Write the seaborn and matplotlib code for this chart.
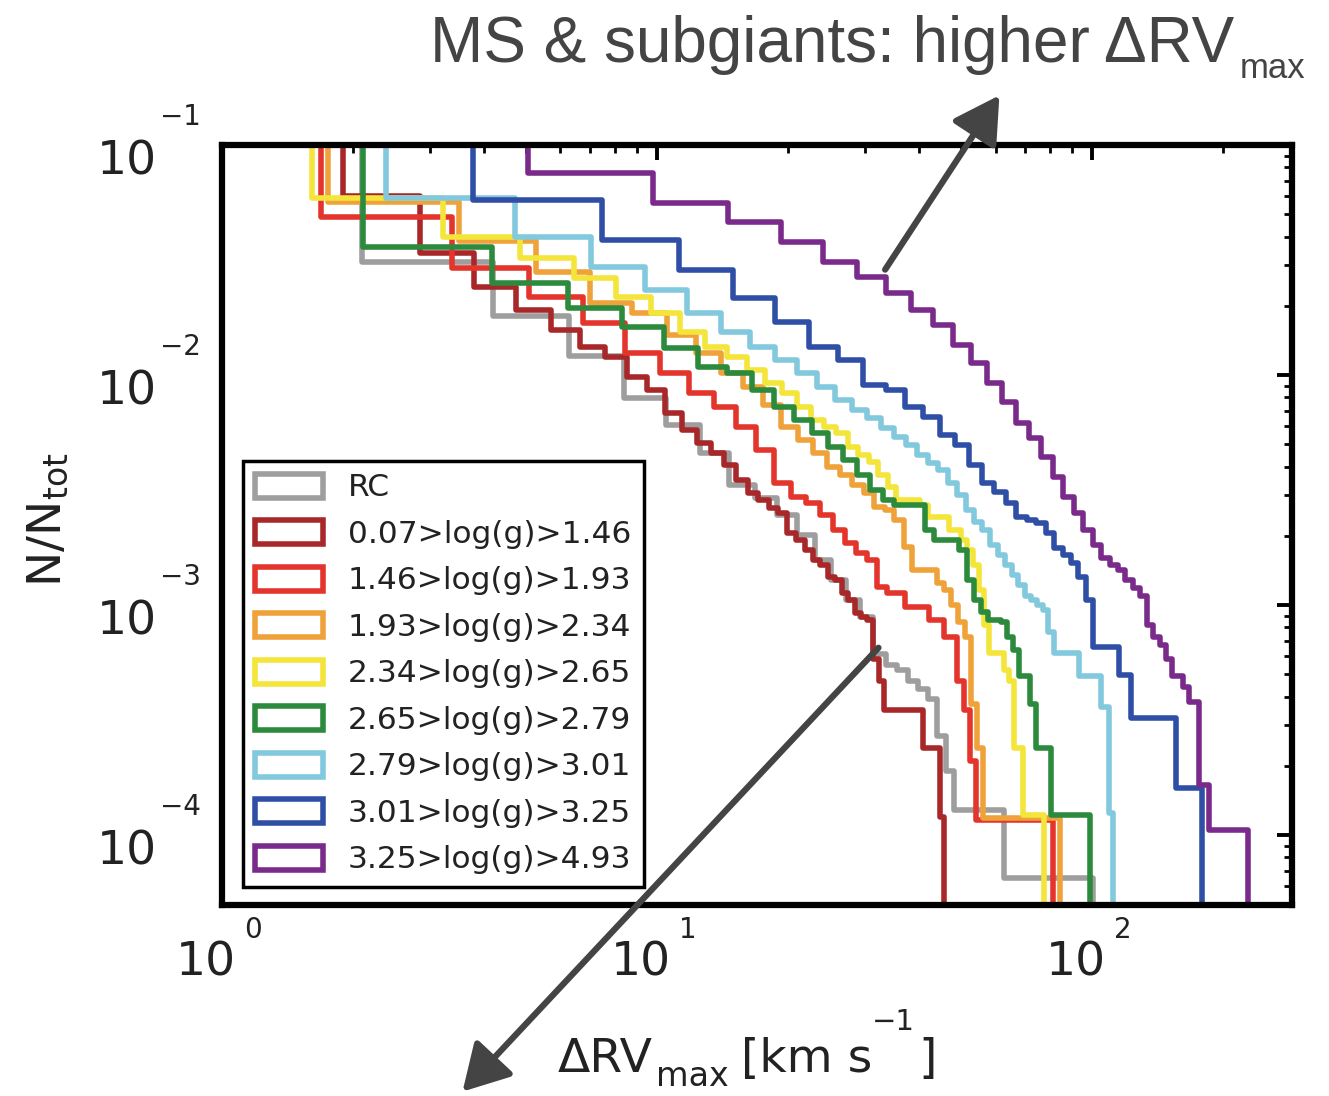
import numpy as np
import pandas as pd
import matplotlib
matplotlib.use("Agg")
import matplotlib.pyplot as plt
import seaborn as sns
from matplotlib.patches import Patch
from matplotlib.ticker import LogLocator, NullFormatter
from matplotlib.transforms import IdentityTransform

# groups, colours and histogram binning of each sample (50 linear bins per group)
labels = ["RC", "0.07>log(g)>1.46", "1.46>log(g)>1.93", "1.93>log(g)>2.34",
          "2.34>log(g)>2.65", "2.65>log(g)>2.79", "2.79>log(g)>3.01",
          "3.01>log(g)>3.25", "3.25>log(g)>4.93"]
colors = ["#9e9e9e", "#a8282a", "#e3352b", "#f0a23a", "#f4e53a",
          "#2c8a3c", "#82c9de", "#2f4ea6", "#7a2a8a"]
bin_start = [0.0, 0.0, 0.0, 0.0, 0.0, 0.05, 0.05, 0.05, 0.28]
bin_width = [2.096, 0.95, 1.69, 1.756, 1.613, 2.06, 2.33, 3.72, 4.76]

# N(>dRV)/N_tot per bin
frac_rc = [1.0, .0310, .0181, .0121, .00794, .00607, .00458, .00333, .00292, .00246,
           .00201, .00157, .00128, .00105, .00089, .00061, .00055, .00052, .00047,
           .00043, .00039, .00027, .00019] + [.000129] * 7 + [.000065] * 18
frac_g1 = [1.0, 1.0, .060, .0339, .0241, .0192, .0157, .0132, .0120, .00980, .00861,
           .00684, .00577, .00506, .00458, .00406, .00349, .00307, .00286, .00264,
           .00251, .00206, .00192, .00173, .00157, .00149, .00132, .00128, .00113,
           .00105, .00092, .00089, .00086, .00058, .00047] + [.00035] * 8 + [.00024] * 4 + [.000120]
frac_g2 = [1.0, .0486, .0292, .0218, .0168, .0125, .0102, .00836, .00726, .00594,
           .00472, .00339, .00295, .00277, .00246, .00212, .00186, .00168, .00157,
           .00120, .00113, .00113, .00098, .00098, .00098, .00086, .00086, .00073,
           .00073, .00047, .00035, .00021] + [.000116] * 16
frac_g3 = [1.0, .0565, .0383, .0281, .0206, .0186, .0149, .0125, .0102, .00887,
           .00741, .00594, .00521, .00458, .00398, .00367, .00333, .00307, .00267,
           .00259, .00234, .00179, .00142, .00142, .00142, .00125, .00116, .00100,
           .00084, .00073, .00037, .00024] + [.000119] * 16
frac_g4 = [1.0, .0589, .0398, .0323, .0264, .0218, .0186, .0154, .0132, .0120, .0105,
           .00923, .00836, .00726, .00637, .00594, .00560, .00486, .00449, .00419,
           .00367, .00326, .00286, .00286, .00286, .00272, .00241, .00241, .00241,
           .00212, .00212, .00192, .00173, .00149, .00116, .00082, .00062, .00062,
           .00062, .00052, .00047, .00024, .00024] + [.000122] * 5
frac_g5 = [1.0, .0360, .0251, .0196, .0162, .0131, .0108, .0102, .00861, .00726,
           .00637, .00560, .00486, .00427, .00367, .00316, .00286, .00272, .00272,
           .00272, .00212, .00192, .00192, .00192, .00173, .00128, .00105, .00093,
           .00086, .00086, .00084, .00073, .00064, .00049, .00049, .00037] + [.00024] * 3 + [.000122] * 9
frac_g6 = [1.0, .0589, .0398, .0295, .0234, .0186, .0154, .0132, .0116, .0102, .00887,
           .00778, .00705, .00650, .00588, .00537, .00496, .00449, .00414, .00386,
           .00339, .00301, .00259, .00230, .00212, .00182, .00165, .00149, .00135,
           .00122, .00110, .00105, .00100, .00095, .00076] + [.00062] * 5 + [.00049] * 5 + [.00036] * 2 + [.000125]
frac_g7 = [1.0, .0577, .0386, .0286, .0216, .0170, .0132, .0116, .00905, .00861,
           .00726, .00656, .00548, .00496, .00406, .00339, .00310, .00277, .00241,
           .00234, .00227, .00206, .00177, .00165, .00152, .00132, .00105] + [.000656] * 4 + [.000497] * 2 + [.000323] * 9 + [.00016] * 6
frac_g8 = [1.0, .0755, .0560, .0462, .0379, .0310, .0267, .0227, .0192, .0165, .0135,
           .0113, .00923, .00764, .00618, .00532, .00440, .00360, .00295, .00251,
           .00212, .00182, .00160, .00149, .00142, .00128, .00119, .00110, .00082,
           .00073, .00067, .00058, .00049, .00049, .00044, .00038, .00038,
           .000165, .000165] + [.000105] * 9

fracs = [frac_rc, frac_g1, frac_g2, frac_g3, frac_g4, frac_g5, frac_g6, frac_g7, frac_g8]

# tick labels drawn as "10" plus a detached exponent, like the original figure
xtick_vals = [1, 10, 100]
xtick_exp = ["0", "1", "2"]
ytick_vals = [1e-1, 1e-2, 1e-3, 1e-4]
ytick_exp = ["\u22121", "\u22122", "\u22123", "\u22124"]

TXT = "#222222"


def place_pieces(fig, x_left, y_base, pieces, color, family):
    """Write text pieces one after another, in display pixels."""
    r = fig.canvas.get_renderer()
    x = x_left
    for s, size, dy, gap in pieces:
        t = fig.text(x, y_base + dy, s, fontsize=size, color=color, family=family,
                     ha="left", va="baseline", transform=IdentityTransform())
        x += t.get_window_extent(renderer=r).width + gap
    return x


def main():
    sns.set_theme(style="white")
    plt.rcParams["font.family"] = ["DejaVu Sans"]
    plt.rcParams["mathtext.fontset"] = "dejavusans"

    # build long table of step curves
    rows = []
    for lab, lo, w, fr in zip(labels, bin_start, bin_width, fracs):
        edges = lo + w * np.arange(len(fr) + 1)
        edges = np.maximum(edges, 0.5)  # first bin starts off the axis
        yvals = list(fr) + [1e-7]       # drop to zero after the last bin
        for e, v in zip(edges, yvals):
            rows.append((lab, e, v))
    df = pd.DataFrame(rows, columns=["group", "drv", "frac"])

    W, H = 1329, 1096
    fig = plt.figure(figsize=(W / 100, H / 100), dpi=100)
    ax = fig.add_axes([0.1670, 0.1743, 0.8051, 0.6934])
    ax.set_xscale("log")
    ax.set_yscale("log")

    sns.lineplot(data=df, x="drv", y="frac", hue="group", hue_order=labels,
                 palette=colors, estimator=None, sort=False, drawstyle="steps-post",
                 linewidth=4.0, legend=False, ax=ax)

    ax.set_xlim(1, 288)
    ax.set_ylim(4.97e-5, 0.1)
    ax.set_xlabel("")
    ax.set_ylabel("")

    for loc_axis in (ax.xaxis, ax.yaxis):
        loc_axis.set_major_locator(LogLocator(base=10, numticks=12))
        loc_axis.set_minor_locator(LogLocator(base=10, subs=np.arange(2, 10), numticks=12))
        loc_axis.set_major_formatter(NullFormatter())
        loc_axis.set_minor_formatter(NullFormatter())

    ax.tick_params(which="both", direction="in", top=True, right=True, colors="black")
    ax.tick_params(which="major", length=11, width=2.8)
    ax.tick_params(which="minor", length=5.5, width=2.0)
    for sp in ax.spines.values():
        sp.set_linewidth(4.5)
        sp.set_color("black")

    xt = ax.get_xaxis_transform()
    for v, e in zip(xtick_vals, xtick_exp):
        ax.annotate("10", xy=(v, 0), xycoords=xt, xytext=(14, -36),
                    textcoords="offset pixels", ha="right", va="top", fontsize=34,
                    color=TXT, annotation_clip=False)
        ax.annotate(e, xy=(v, 0), xycoords=xt, xytext=(22, -11),
                    textcoords="offset pixels", ha="left", va="top", fontsize=20,
                    color=TXT, annotation_clip=False)
    yt = ax.get_yaxis_transform()
    for v, e in zip(ytick_vals, ytick_exp):
        ax.annotate("10", xy=(0, v), xycoords=yt, xytext=(-65, 6),
                    textcoords="offset pixels", ha="right", va="top", fontsize=34,
                    color=TXT, annotation_clip=False)
        ax.annotate(e, xy=(0, v), xycoords=yt, xytext=(-62, 14),
                    textcoords="offset pixels", ha="left", va="bottom", fontsize=20,
                    color=TXT, annotation_clip=False)

    handles = [Patch(facecolor="white", edgecolor=c, linewidth=4.0) for c in colors]
    leg = ax.legend(handles, labels, loc="lower left", bbox_to_anchor=(0.0196, 0.0237),
                    borderaxespad=0, fontsize=22.5, frameon=True, fancybox=False,
                    framealpha=1, edgecolor="black", handlelength=2.15,
                    handleheight=0.8, handletextpad=0.8, labelspacing=0.56,
                    borderpad=0.4)
    leg.get_frame().set_linewidth(2.5)
    for t in leg.get_texts():
        t.set_color(TXT)

    # axis titles
    fig.text(48 / W, 1 - 520 / H, r"N/N$_{\rm tot}$", rotation=90, fontsize=34,
             color=TXT, ha="center", va="center")
    fig.canvas.draw()
    place_pieces(fig, 558, H - 1072,
                 [("\u0394RV", 34, 0, 3), ("max", 24, -14, 12), ("[km s", 34, 0, 0),
                  ("\u22121", 21, 42, 3), ("]", 34, 0, 0)],
                 TXT, ["DejaVu Sans"])

    # annotation arrows and text outside the axes
    arrow_kw = dict(arrowstyle="-|>,head_length=1.4,head_width=0.8", color="#444444",
                    lw=4.5, mutation_scale=20, shrinkA=0, shrinkB=0)
    ax.annotate("", xy=(0.752, 0.913), xytext=(0.666, 0.754),
                xycoords="figure fraction", textcoords="figure fraction",
                arrowprops=arrow_kw, annotation_clip=False)
    ax.annotate("", xy=(0.348, 0.004), xytext=(0.661, 0.409),
                xycoords="figure fraction", textcoords="figure fraction",
                arrowprops=arrow_kw, annotation_clip=False)

    place_pieces(fig, 430, H - 62,
                 [("MS & subgiants: higher \u0394RV", 46, 0, 5), ("max", 25, -16, 0)],
                 "#444444", ["Liberation Sans", "DejaVu Sans"])

    fig.savefig("out.png", dpi=100)
    plt.close(fig)


if __name__ == "__main__":
    main()
